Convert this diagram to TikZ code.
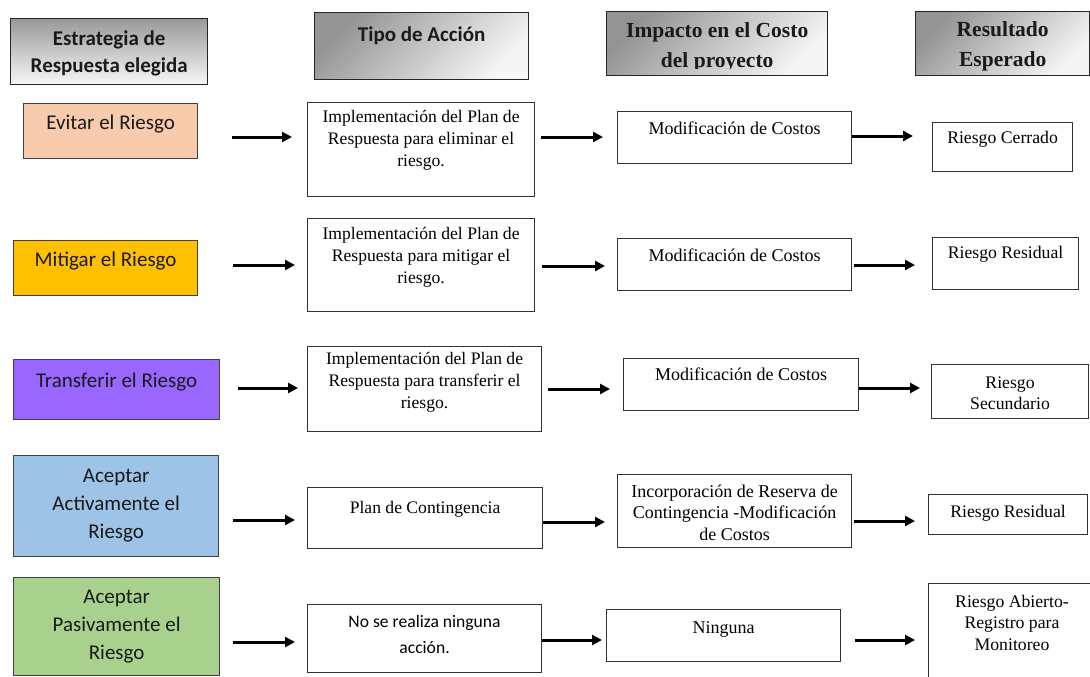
\documentclass[tikz,border=0pt]{standalone}
\usepackage{fontspec}
\setmainfont{Liberation Serif}
\newfontfamily\calib{Carlito}
\usetikzlibrary{arrows.meta}
\definecolor{cpeach}{HTML}{F8CBAD}
\definecolor{cgold}{HTML}{FFC000}
\definecolor{cpurple}{HTML}{9966FF}
\definecolor{cblue}{HTML}{9DC3E6}
\definecolor{cgreen}{HTML}{A9D18E}
\definecolor{ctext}{HTML}{1A1A1A}
\newcommand{\bx}[6][]{\node[#1, inner sep=0pt, anchor=north west,
  minimum width={(#5-#3)*1pt}, minimum height={(#6-#4)*1pt}] (#2) at (#3,#4) {};}
\begin{document}
\begin{tikzpicture}[x=1pt,y=-1pt,
  hdr/.style={draw=black!85, line width=1.4pt, top color=black!42, bottom color=black!4, shading angle=45},
  hdrv/.style={draw=black!85, line width=1.4pt, top color=black!40, bottom color=black!3},
  strat/.style={draw=black!75, line width=1.3pt},
  act/.style={draw=black!80, line width=1.1pt},
  arr/.style={line width=3pt, -{Triangle[length=10pt,width=10pt]}},
  hcal/.style={font=\calib\bfseries\fontsize{21}{28}\selectfont, align=center, anchor=base, text=ctext},
  htim/.style={font=\bfseries\fontsize{21.5}{30}\selectfont, align=center, anchor=base, text=ctext},
  scal/.style={font=\calib\fontsize{21}{28}\selectfont, align=center, anchor=base, text=ctext},
  ttip/.style={font=\fontsize{17.6}{22}\selectfont, align=center, anchor=base},
  timp/.style={font=\fontsize{18}{21.7}\selectfont, align=center, anchor=base},
  tres/.style={font=\fontsize{17.7}{21.5}\selectfont, align=center, anchor=base},
  tcal/.style={font=\calib\fontsize{17.6}{26}\selectfont, align=center, anchor=base}
]
\useasboundingbox (0,0) rectangle (1090,677);
\fill[white] (0,0) rectangle (1090,677);
\clip (0,0) rectangle (1090,677);

% headers
\bx[hdrv]{h1}{10}{18}{207}{84}
\bx[hdr]{h2}{314}{12}{528}{79}
\bx[hdr]{h3}{606}{11}{827}{75}
\bx[hdr]{h4}{915}{11}{1089}{75}
\node[hcal] (h1t) at (h1.north |- 0,73) {Estrategia de\\Respuesta elegida};
\node[hcal] (h2t) at (h2.north |- 0,42) {Tipo de Acción};
\begin{scope}
\clip (606,11) rectangle (827,69);
\node[htim] (h3t) at (h3.north |- 0,68) {Impacto en el Costo\\del proyecto};
\end{scope}
\node[htim] (h4t) at (h4.north |- 0,66.5) {Resultado\\Esperado};

% strategy column
\bx[strat, fill=cpeach]{e1}{23}{103}{197}{158}
\bx[strat, fill=cgold]{e2}{13}{240}{197}{295}
\bx[strat, fill=cpurple]{e3}{13}{359}{219}{419}
\bx[strat, fill=cblue]{e4}{13}{455}{218}{556}
\bx[strat, fill=cgreen]{e5}{13}{577}{219}{675}
\node[scal] (e1t) at (e1.north |- 0,129) {Evitar el Riesgo};
\node[scal] (e2t) at (e2.north |- 0,266) {Mitigar el Riesgo};
\node[scal] (e3t) at (e3.north |- 0,387) {Transferir el Riesgo};
\node[scal] (e4t) at (e4.north |- 0,538) {Aceptar\\Activamente el\\Riesgo};
\node[scal] (e5t) at (e5.north |- 0,659) {Aceptar\\Pasivamente el\\Riesgo};

% action column
\bx[act]{t1}{307}{102}{534}{196}
\bx[act]{t2}{307}{218}{534}{311}
\bx[act]{t3}{307}{346}{541}{431}
\bx[act]{t4}{307}{487}{542}{548}
\bx[act]{t5}{307}{604}{541}{672}
\node[ttip] (t1t) at (t1.north |- 0,166) {Implementación del Plan de\\Respuesta para eliminar el\\riesgo.};
\node[ttip] (t2t) at (t2.north |- 0,283) {Implementación del Plan de\\Respuesta para mitigar el\\riesgo.};
\node[ttip] (t3t) at (t3.north |- 0,408) {Implementación del Plan de\\Respuesta para transferir el\\riesgo.};
\node[ttip] (t4t) at (t4.north |- 0,513) {Plan de Contingencia};
\node[tcal] (t5t) at (t5.north |- 0,653) {No se realiza ninguna\\acción.};

% impact column
\bx[act]{i1}{617}{111}{851}{163}
\bx[act]{i2}{617}{238}{851}{290}
\bx[act]{i3}{623}{358}{858}{410}
\bx[act]{i4}{617}{474}{851}{547}
\bx[act]{i5}{606}{609}{840}{661}
\node[timp] (i1t) at (i1.north |- 0,134) {Modificación de Costos};
\node[timp] (i2t) at (i2.north |- 0,261) {Modificación de Costos};
\node[timp] (i3t) at (i3.north |- 0,380) {Modificación de Costos};
\node[timp] (i4t) at (i4.north |- 0,540.4) {Incorporación de Reserva de\\Contingencia -Modificación\\de Costos};
\node[timp] (i5t) at (i5.north |- 0,633) {Ninguna};

% result column
\bx[act]{r1}{932}{122}{1072}{171}
\bx[act]{r2}{932}{237}{1078}{289}
\bx[act]{r3}{931}{364}{1088}{418}
\bx[act]{r4}{928}{494}{1087}{534}
\bx[act]{r5}{928}{583}{1110}{700}
\node[tres] (r1t) at (r1.north |- 0,143) {Riesgo Cerrado};
\node[tres] (r2t) at (r2.north |- 0,258) {Riesgo Residual};
\node[tres] (r3t) at (r3.north |- 0,409.5) {Riesgo\\Secundario};
\node[tres] (r4t) at (r4.north |- 0,517) {Riesgo Residual};
\node[tres] (r5t) at (1012,650) {Riesgo Abierto-\\Registro para\\Monitoreo};

% arrows
\draw[arr, shorten <=34pt, shorten >=15pt] (e1.east |- 0,137) -- (t1.west |- 0,137);
\draw[arr, shorten <=6pt, shorten >=14pt] (t1.east |- 0,137) -- (i1.west |- 0,137);
\draw[arr, shorten <=0pt, shorten >=19pt] (i1.east |- 0,136) -- (r1.west |- 0,136);

\draw[arr, shorten <=35pt, shorten >=12pt] (e2.east |- 0,265) -- (t2.west |- 0,265);
\draw[arr, shorten <=7pt, shorten >=12pt] (t2.east |- 0,266) -- (i2.west |- 0,266);
\draw[arr, shorten <=2pt, shorten >=17pt] (i2.east |- 0,265) -- (r2.west |- 0,265);

\draw[arr, shorten <=18pt, shorten >=9pt] (e3.east |- 0,388) -- (t3.west |- 0,388);
\draw[arr, shorten <=6pt, shorten >=13pt] (t3.east |- 0,389) -- (i3.west |- 0,389);
\draw[arr, shorten <=0pt, shorten >=11pt] (i3.east |- 0,388) -- (r3.west |- 0,388);

\draw[arr, shorten <=14pt, shorten >=12pt] (e4.east |- 0,520) -- (t4.west |- 0,520);
\draw[arr, shorten <=0pt, shorten >=12pt] (t4.east |- 0,522) -- (i4.west |- 0,522);
\draw[arr, shorten <=2pt, shorten >=13pt] (i4.east |- 0,521) -- (r4.west |- 0,521);

\draw[arr, shorten <=13pt, shorten >=12pt] (e5.east |- 0,642) -- (t5.west |- 0,642);
\draw[arr, shorten <=0pt, shorten >=4pt] (t5.east |- 0,640) -- (i5.west |- 0,640);
\draw[arr, shorten <=14pt, shorten >=13pt] (i5.east |- 0,640) -- (r5.west |- 0,640);
\end{tikzpicture}
\end{document}
